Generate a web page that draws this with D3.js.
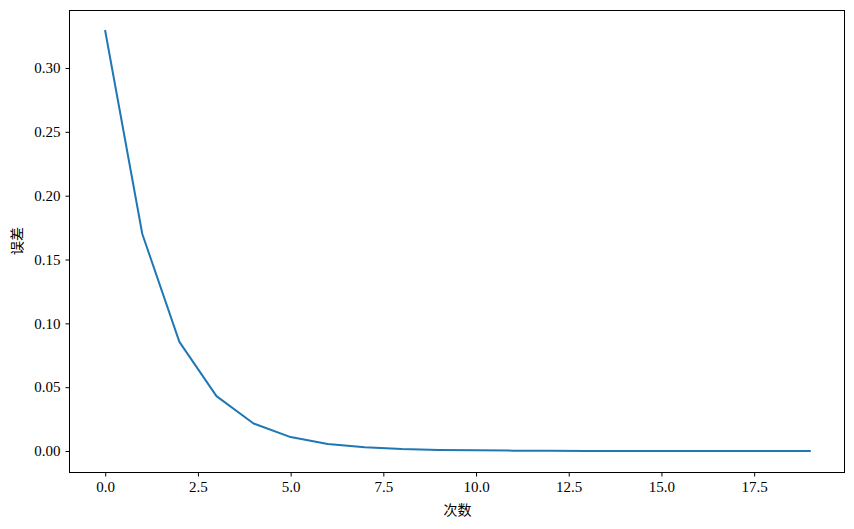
<!DOCTYPE html>
<html>
<head>
<meta charset="utf-8">
<script src="https://cdn.jsdelivr.net/npm/d3@7"></script>
<style>
html,body{margin:0;padding:0;background:#fff;}
svg{display:block;}
</style>
</head>
<body>
<svg id="chart" width="854" height="529"></svg>
<script>
const iterations = [0,1,2,3,4,5,6,7,8,9,10,11,12,13,14,15,16,17,18,19];
const errors = [0.329, 0.170, 0.0855, 0.0430, 0.0216, 0.0109, 0.0055, 0.0029, 0.0015, 0.0008,
                0.0005, 0.0003, 0.0002, 0.0001, 0.0001, 0.00005, 0.00003, 0.00002, 0.00001, 0.00001];
const xTicks = [0, 2.5, 5, 7.5, 10, 12.5, 15, 17.5];
const yTicks = [0, 0.05, 0.10, 0.15, 0.20, 0.25, 0.30];
const xLabel = "次数";
const yLabel = "误差";

const svg = d3.select("#chart");
const L = 70, R = 845, T = 10, B = 472;
const font = "'Liberation Serif', 'Noto Serif CJK SC', serif";
const cjk = "'Noto Sans CJK SC', sans-serif";

const xmin = d3.min(iterations), xmax = d3.max(iterations);
const xpad = (xmax - xmin) * 0.05;
const ymin = d3.min(errors), ymax = d3.max(errors);
const ypad = (ymax - ymin) * 0.05;

const x = d3.scaleLinear().domain([xmin - xpad, xmax + xpad]).range([L, R]);
const y = d3.scaleLinear().domain([ymin - ypad, ymax + ypad]).range([B, T]);

const line = d3.line().x((d, i) => x(iterations[i])).y(d => y(d));
svg.append("path").datum(errors)
  .attr("d", line).attr("fill", "none")
  .attr("stroke", "#1f77b4").attr("stroke-width", 2)
  .attr("stroke-linejoin", "round").attr("stroke-linecap", "square");

const xAxis = svg.append("g").attr("transform", `translate(0,${B + 0.5})`)
  .call(d3.axisBottom(x).tickValues(xTicks).tickFormat(d3.format(".1f")).tickSizeOuter(0).tickSize(4).tickPadding(5));
const yAxis = svg.append("g").attr("transform", `translate(${L - 0.5},0)`)
  .call(d3.axisLeft(y).tickValues(yTicks).tickFormat(d3.format(".2f")).tickSizeOuter(0).tickSize(4).tickPadding(5));
[xAxis, yAxis].forEach(g => {
  g.select(".domain").remove();
  g.selectAll("line").attr("stroke", "#000").attr("stroke-width", 1);
  g.selectAll("text").attr("fill", "#000").style("font-family", font).style("font-size", "15px");
});

svg.append("rect").attr("x", L - 0.5).attr("y", T + 0.5).attr("width", R - L).attr("height", B - T)
  .attr("fill", "none").attr("stroke", "#000").attr("stroke-width", 1);

svg.append("text").attr("x", (L + R) / 2).attr("y", 515)
  .attr("text-anchor", "middle").style("font-family", cjk).style("font-size", "14px").text(xLabel);
svg.append("text").attr("transform", `translate(22,${(T + B) / 2}) rotate(-90)`)
  .attr("text-anchor", "middle").style("font-family", cjk).style("font-size", "14px").text(yLabel);
</script>
</body>
</html>
